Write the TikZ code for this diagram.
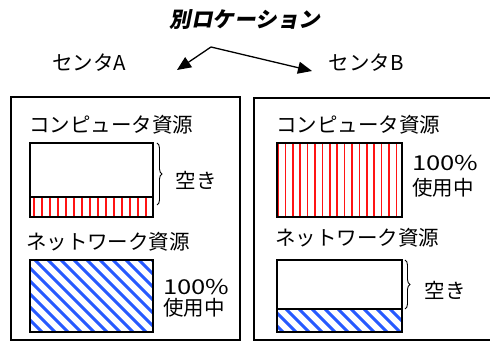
\documentclass[tikz,border=0pt]{standalone}
\usepackage{fontspec}
\setmainfont{Noto Sans CJK JP}
\newfontfamily\titlefont[FakeSlant=0.2, BoldFeatures={FakeSlant=0.2}]{Noto Sans CJK JP}
\usetikzlibrary{arrows.meta,decorations.pathreplacing}
\definecolor{stripered}{RGB}{255,20,20}
\definecolor{stripeblue}{RGB}{40,90,255}
\tikzset{
  lbl/.style={font=\fontsize{20.5}{22}\selectfont, inner sep=0pt},
  pct/.style={font=\fontsize{20.5}{22}\selectfont, inner sep=0pt, xscale=1.25},
  outerbox/.style={draw, line width=1.8pt},
  innerbox/.style={draw, line width=1.8pt},
  arr/.style={line width=1.3pt, -{Triangle[length=14pt,width=12pt]}},
  brc/.style={decorate, decoration={brace, amplitude=5pt}, line width=0.9pt},
  redline/.style={stripered, line width=1.6pt},
  blueline/.style={stripeblue, line width=3pt}
}
\begin{document}
\begin{tikzpicture}[x=1pt,y=-1pt]
\useasboundingbox (0,0) rectangle (490,352);
% title and centers
\node[font=\titlefont\bfseries\fontsize{21.5}{23}\selectfont, inner sep=0pt] (title) at (245,20) {別ロケーション};
\node[lbl] (ca) at (89,63) {センタA};
\node[lbl] (cb) at (366,63) {センタB};
\coordinate (apex) at (211,47);
\coordinate (tipA) at (177,70);
\coordinate (tipB) at (312,71);
\draw[arr] (apex) -- (tipA);
\draw[arr] (apex) -- (tipB);
% outer boxes
\draw[outerbox] (11,97) rectangle (240,340);
\draw[outerbox] (254,98) rectangle (495,340);
% ===== Center A =====
\node[lbl] (acomp) at (111,125) {コンピュータ資源};
\begin{scope}
  \clip (30,197) rectangle (153,217);
  \foreach \i in {0,...,16} { \draw[redline] (34+8*\i,190) -- (34+8*\i,220); }
\end{scope}
\draw[innerbox] (30,143) rectangle (153,217);
\draw[line width=1.6pt] (30,197) -- (153,197);
\draw[brc] (157,143) -- (157,205);
\node[lbl] (aaki) at (196,180) {空き};
\node[lbl] (anet) at (108,242) {ネットワーク資源};
\begin{scope}
  \clip (30,260) rectangle (153,332);
  \foreach \i in {-8,...,12} { \draw[blueline] (30+13*\i,255) -- (30+13*\i+85,340); }
\end{scope}
\draw[innerbox] (30,260) rectangle (153,332);
\node[pct, anchor=west] (a100) at (163,287) {100\%};
\node[lbl, anchor=west] (ause) at (163,308) {使用中};
% ===== Center B =====
\node[lbl] (bcomp) at (358,125) {コンピュータ資源};
\begin{scope}
  \clip (277,143) rectangle (402,217);
  \foreach \i in {0,...,16} { \draw[redline] (278+7.4*\i,140) -- (278+7.4*\i,220); }
\end{scope}
\draw[innerbox] (277,143) rectangle (402,217);
\node[pct, anchor=west] (b100) at (412,163) {100\%};
\node[lbl, anchor=west] (buse) at (412,188) {使用中};
\node[lbl] (bnet) at (357,238) {ネットワーク資源};
\begin{scope}
  \clip (277,309) rectangle (402,332);
  \foreach \i in {-3,...,12} { \draw[blueline] (277+13*\i,300) -- (277+13*\i+40,340); }
\end{scope}
\draw[innerbox] (277,260) rectangle (402,332);
\draw[line width=1.6pt] (277,309) -- (402,309);
\draw[brc] (405,260) -- (405,309);
\node[lbl] (baki) at (445,290) {空き};
\end{tikzpicture}
\end{document}
